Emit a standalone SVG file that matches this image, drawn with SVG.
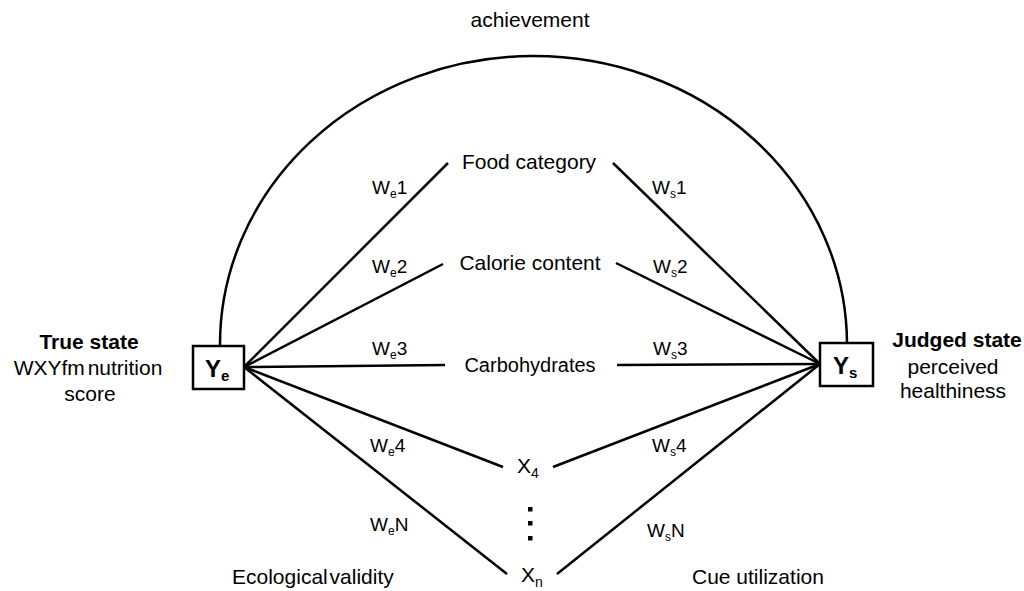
<svg xmlns="http://www.w3.org/2000/svg" width="1024" height="591" viewBox="0 0 1024 591">
<style>
text{font-family:"Liberation Sans",Arial,sans-serif;fill:#000}
.t{font-size:21px}
.b{font-size:21px;font-weight:bold}
.w{font-size:19px}
.sub{font-size:12px}
.ln{stroke:#000;stroke-width:2.5;fill:none}
.box{fill:#fff;stroke:#000;stroke-width:2.5}
</style>
<rect width="1024" height="591" fill="#fff"/>
<g id="connectors">
<path class="ln" d="M220,346 A313,288 0 0 1 847,343"/>
<line class="ln" x1="244" y1="367" x2="448" y2="163"/>
<line class="ln" x1="244" y1="367" x2="443" y2="264"/>
<line class="ln" x1="244" y1="367" x2="445" y2="365"/>
<line class="ln" x1="244" y1="367" x2="503" y2="467"/>
<line class="ln" x1="244" y1="367" x2="507" y2="574"/>
<line class="ln" x1="613" y1="163" x2="820" y2="364"/>
<line class="ln" x1="616" y1="263" x2="820" y2="364"/>
<line class="ln" x1="617" y1="365" x2="820" y2="364"/>
<line class="ln" x1="553" y1="467" x2="820" y2="364"/>
<line class="ln" x1="557" y1="574" x2="820" y2="364"/>
<text class="w" x="372" y="194">W<tspan class="sub" dy="4">e</tspan><tspan dy="-4">1</tspan></text>
<text class="w" x="372" y="273">W<tspan class="sub" dy="4">e</tspan><tspan dy="-4">2</tspan></text>
<text class="w" x="372" y="355">W<tspan class="sub" dy="4">e</tspan><tspan dy="-4">3</tspan></text>
<text class="w" x="370" y="452">W<tspan class="sub" dy="4">e</tspan><tspan dy="-4">4</tspan></text>
<text class="w" x="370" y="531">W<tspan class="sub" dy="4">e</tspan><tspan dy="-4">N</tspan></text>
<text class="w" x="652" y="194">W<tspan class="sub" dy="4">s</tspan><tspan dy="-4">1</tspan></text>
<text class="w" x="653" y="273">W<tspan class="sub" dy="4">s</tspan><tspan dy="-4">2</tspan></text>
<text class="w" x="653" y="355">W<tspan class="sub" dy="4">s</tspan><tspan dy="-4">3</tspan></text>
<text class="w" x="652" y="452">W<tspan class="sub" dy="4">s</tspan><tspan dy="-4">4</tspan></text>
<text class="w" x="647" y="537">W<tspan class="sub" dy="4">s</tspan><tspan dy="-4">N</tspan></text>
</g>
<g id="achievement"><text class="t" x="530" y="27" text-anchor="middle">achievement</text></g>
<g id="ye">
<rect class="box" x="193" y="346" width="51" height="43"/>
<text x="205" y="377" style="font-size:24px;font-weight:bold">Y<tspan dy="4" style="font-size:15px">e</tspan></text>
</g>
<g id="ys">
<rect class="box" x="820" y="343" width="53" height="43"/>
<text x="833" y="374" style="font-size:24px;font-weight:bold">Y<tspan dy="4" style="font-size:15px">s</tspan></text>
</g>
<g id="true-state">
<text class="b" x="89" y="349" text-anchor="middle">True state</text>
<text class="t" x="88" y="375" text-anchor="middle" word-spacing="-3">WXYfm nutrition</text>
<text class="t" x="90" y="401" text-anchor="middle">score</text>
</g>
<g id="judged-state">
<text class="b" x="957" y="347" text-anchor="middle">Judged state</text>
<text class="t" x="953" y="374" text-anchor="middle">perceived</text>
<text class="t" x="953" y="398" text-anchor="middle">healthiness</text>
</g>
<g id="food"><text class="t" x="529" y="169" text-anchor="middle">Food category</text></g>
<g id="calorie"><text class="t" x="530" y="270" text-anchor="middle">Calorie content</text></g>
<g id="carb"><text class="t" x="530" y="372" text-anchor="middle" style="font-size:20px">Carbohydrates</text></g>
<g id="x4"><text class="t" x="517" y="473">X<tspan class="sub" style="font-size:14px" dy="5">4</tspan></text></g>
<g id="dots">
<rect x="528" y="507" width="4.5" height="4.5"/>
<rect x="528" y="521" width="4.5" height="4.5"/>
<rect x="528" y="536" width="4.5" height="4.5"/>
</g>
<g id="xn"><text class="t" x="521" y="582">X<tspan class="sub" style="font-size:14px" dy="5">n</tspan></text></g>
<g id="eco"><text class="t" x="232" y="584" word-spacing="-4">Ecological validity</text></g>
<g id="cue"><text class="t" x="692" y="584">Cue utilization</text></g>
</svg>
